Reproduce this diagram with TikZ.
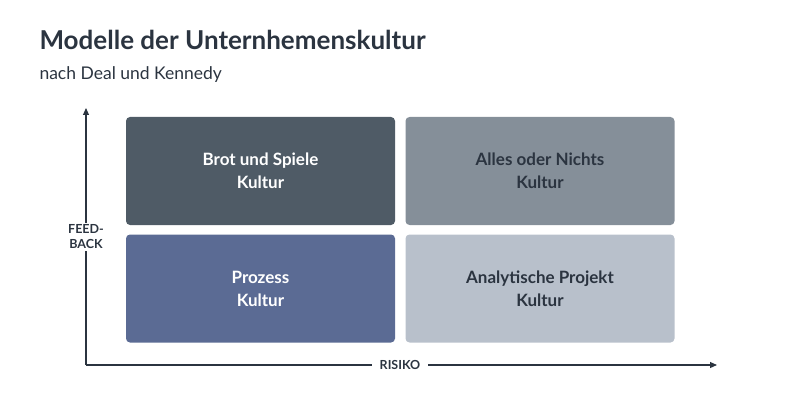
\documentclass[tikz,border=0pt]{standalone}
\usepackage{fontspec}
\setmainfont{Lato}
\usetikzlibrary{arrows.meta}
\definecolor{titlec}{HTML}{2B3440}
\definecolor{boxA}{HTML}{4F5B66}
\definecolor{boxB}{HTML}{858F99}
\definecolor{boxC}{HTML}{5B6B94}
\definecolor{boxD}{HTML}{B8C0CB}
\tikzset{
  cell/.style={rounded corners=4pt, minimum width=269pt, minimum height=108pt, inner sep=0pt, align=center, font=\fontsize{17}{23}\selectfont\bfseries},
  axis/.style={draw=titlec, line width=1.1pt},
  axlabel/.style={text=titlec, font=\fontsize{12.5}{15}\selectfont\bfseries, align=center, inner sep=2pt}
}
\begin{document}
\begin{tikzpicture}[x=1pt,y=-1pt]
\useasboundingbox (0,0) rectangle (801,401);
\node[anchor=west, text=titlec, font=\fontsize{26}{30}\selectfont\bfseries] (title) at (36,40) {Modelle der Unternhemenskultur};
\node[anchor=west, text=titlec, font=\fontsize{17.5}{20}\selectfont] (sub) at (36,75) {nach Deal und Kennedy};
\node[cell, fill=boxA, text=white] (a) at (260.5,171) {Brot und Spiele\\Kultur};
\node[cell, fill=boxB, text=titlec] (b) at (540,171) {Alles oder Nichts\\Kultur};
\node[cell, fill=boxC, text=white] (c) at (260.5,288.5) {Prozess\\Kultur};
\node[cell, fill=boxD, text=titlec] (d) at (540,288.5) {Analytische Projekt\\Kultur};
\coordinate (o) at (86,365);
\coordinate (ytop) at (86,108);
\coordinate (xend) at (717,365);
\node[axlabel] (fb) at (86,237) {FEED-\\BACK};
\node[axlabel, inner sep=8pt] (ris) at (400,365) {RISIKO};
\draw[axis] (o) -- (fb.south);
\draw[axis, -{Triangle[length=7pt,width=6pt]}] (fb.north) -- (ytop);
\draw[axis] (o) -- (ris.west);
\draw[axis, -{Triangle[length=7pt,width=6pt]}] (ris.east) -- (xend);
\end{tikzpicture}
\end{document}
